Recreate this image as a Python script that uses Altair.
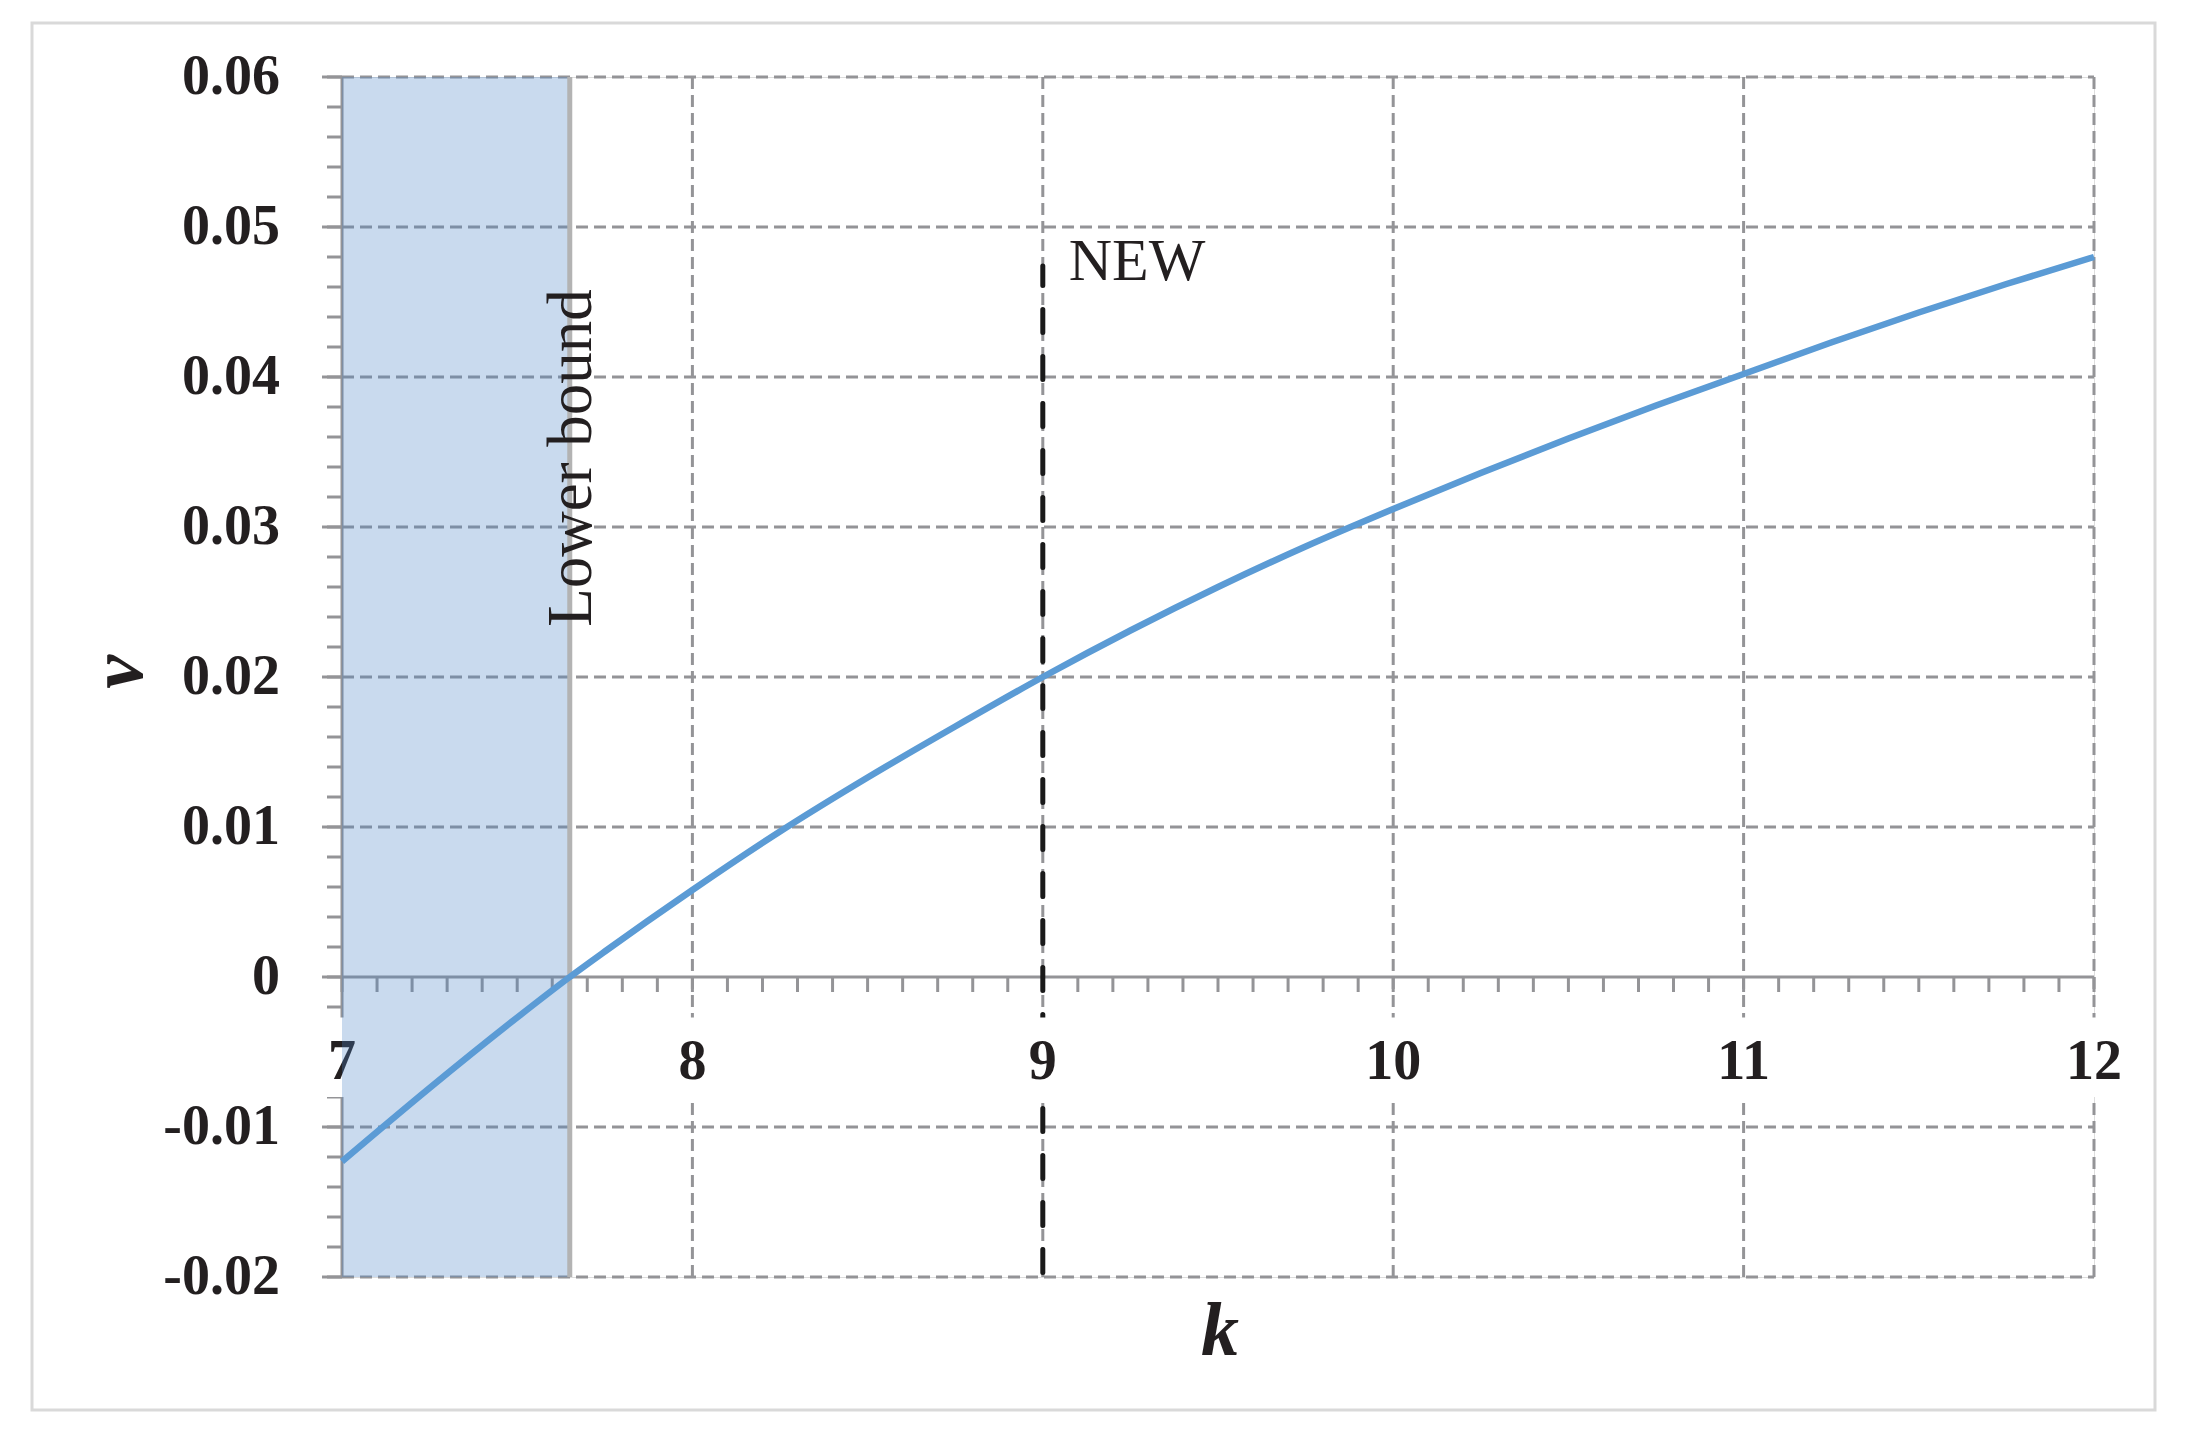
import altair as alt
import pandas as pd

# ---- data ----
k_vals = [7.0, 7.25, 7.5, 7.65, 7.75, 8.0, 8.25, 8.5, 8.75, 9.0, 9.25, 9.5, 9.75,
          10.0, 10.25, 10.5, 10.75, 11.0, 11.25, 11.5, 11.75, 12.0]
v_vals = [-0.0123, -0.0074, -0.0027, 0.0, 0.0017, 0.0058, 0.0097, 0.0133, 0.0167, 0.0200,
          0.0231, 0.0260, 0.0287, 0.0312, 0.0336, 0.0359, 0.0381, 0.0402, 0.0423, 0.0443,
          0.0462, 0.0480]

x_ticks = [7, 8, 9, 10, 11, 12]
x_labels = ["7", "8", "9", "10", "11", "12"]
y_ticks = [-0.02, -0.01, 0.0, 0.01, 0.02, 0.03, 0.04, 0.05, 0.06]
y_labels = ["-0.02", "-0.01", "0", "0.01", "0.02", "0.03", "0.04", "0.05", "0.06"]
y_minor = [round(-0.02 + 0.002 * i, 4) for i in range(41)]
x_minor = [round(7 + 0.1 * i, 2) for i in range(51)]

lower_bound = 7.65
new_k = 9.0
new_top, new_bottom = 0.0474, -0.0197

X_MIN, X_MAX = 7, 12
Y_MIN, Y_MAX = -0.02, 0.06

FONT = "Liberation Serif"
GRID = "#949497"
TXT = "#231f20"

W, H = 1752, 1200

xs = alt.Scale(domain=[X_MIN, X_MAX], nice=False, zero=False)
ys = alt.Scale(domain=[Y_MIN, Y_MAX], nice=False, zero=False)

def X(f="x"):
    return alt.X(f"{f}:Q", scale=xs, axis=None)

def Y(f="y"):
    return alt.Y(f"{f}:Q", scale=ys, axis=None)

curve = pd.DataFrame({"x": k_vals, "y": v_vals})

# frame around everything
frame = alt.Chart(pd.DataFrame({"a": [0]})).mark_rect(
    filled=False, stroke="#d9d9d9", strokeWidth=3
).encode(x=alt.value(-310), x2=alt.value(1813), y=alt.value(-54), y2=alt.value(1333))

# horizontal grid
hgrid_df = pd.DataFrame({"y": [v for v in y_ticks if v != 0.0], "x": X_MIN, "x2": X_MAX})
hgrid = alt.Chart(hgrid_df).mark_rule(color=GRID, strokeWidth=3, strokeDash=[12, 6]).encode(
    y=Y(), x=X(), x2="x2:Q")

# vertical grid
vgrid_df = pd.DataFrame({"x": x_ticks[1:], "y": Y_MIN, "y2": Y_MAX})
vgrid = alt.Chart(vgrid_df).mark_rule(color=GRID, strokeWidth=3, strokeDash=[12, 6]).encode(
    x=X(), y=Y(), y2="y2:Q")

# axis lines
yaxis_line = alt.Chart(pd.DataFrame({"x": [X_MIN], "y": [Y_MIN], "y2": [Y_MAX]})).mark_rule(
    color=GRID, strokeWidth=3).encode(x=X(), y=Y(), y2="y2:Q")
xaxis_line = alt.Chart(pd.DataFrame({"y": [0.0], "x": [X_MIN], "x2": [X_MAX]})).mark_rule(
    color=GRID, strokeWidth=3).encode(y=Y(), x=X(), x2="x2:Q")

# y ticks
ymaj = alt.Chart(pd.DataFrame({"y": y_ticks})).mark_rule(color=GRID, strokeWidth=3).encode(
    y=Y(), x=alt.value(-20), x2=alt.value(0))
ymin = alt.Chart(pd.DataFrame({"y": y_minor})).mark_rule(color=GRID, strokeWidth=3).encode(
    y=Y(), x=alt.value(-15), x2=alt.value(0))

# x minor ticks (downward from v = 0)
xmin_df = pd.DataFrame({"x": x_minor, "y": 0.0, "y2": -0.001})
xmin = alt.Chart(xmin_df).mark_rule(color=GRID, strokeWidth=3).encode(
    x=X(), y=Y(), y2="y2:Q")

# NEW dashed line (under the label boxes)
new_line = alt.Chart(pd.DataFrame({"x": [new_k], "y": [new_bottom], "y2": [new_top]})).mark_rule(
    color="#1a1a1a", strokeWidth=5, strokeDash=[23, 24], strokeCap="round").encode(
    x=X(), y=Y(), y2="y2:Q")

# y labels
ylab = alt.Chart(pd.DataFrame({"y": y_ticks, "t": y_labels})).mark_text(
    font=FONT, fontSize=56, fontWeight="bold", align="right", baseline="middle", color=TXT
).encode(y=Y(), x=alt.value(-62), text="t:N")

# x label backgrounds and labels
lab_y = -0.00567
bg_df = pd.DataFrame({
    "x": [k - (0.065 if len(t) == 1 else 0.125) for k, t in zip(x_ticks, x_labels)],
    "x2": [k + (0.065 if len(t) == 1 else 0.125) for k, t in zip(x_ticks, x_labels)],
    "y": -0.0027, "y2": -0.0080})
xbg = alt.Chart(bg_df).mark_rect(color="white").encode(x=X(), x2="x2:Q", y=Y(), y2="y2:Q")
xlab = alt.Chart(pd.DataFrame({"x": x_ticks, "t": x_labels, "y": lab_y})).mark_text(
    font=FONT, fontSize=56, fontWeight="bold", align="center", baseline="middle", color=TXT
).encode(x=X(), y=Y(), text="t:N")

# shaded band
band = alt.Chart(pd.DataFrame({"x": [X_MIN], "x2": [lower_bound], "y": [Y_MIN], "y2": [Y_MAX]})).mark_rect(
    color="#4b84c6", opacity=0.3).encode(x=X(), x2="x2:Q", y=Y(), y2="y2:Q")
lb_line = alt.Chart(pd.DataFrame({"x": [lower_bound], "y": [Y_MIN], "y2": [Y_MAX]})).mark_rule(
    color="#b3b3b3", strokeWidth=5).encode(x=X(), y=Y(), y2="y2:Q")

# curve
line = alt.Chart(curve).mark_line(color="#5b9bd5", strokeWidth=6.5, interpolate="monotone").encode(
    x=X(), y=Y())

new_text = alt.Chart(pd.DataFrame({"x": [9.074], "y": [0.04647], "t": ["NEW"]})).mark_text(
    font=FONT, fontSize=60, align="left", baseline="alphabetic", color=TXT).encode(
    x=X(), y=Y(), text="t:N")

lb_text = alt.Chart(pd.DataFrame({"x": [7.712], "y": [0.0346], "t": ["Lower bound"]})).mark_text(
    font=FONT, fontSize=63, align="center", baseline="alphabetic", angle=270, color=TXT).encode(
    x=X(), y=Y(), text="t:N")

# axis titles
ytitle = alt.Chart(pd.DataFrame({"t": ["v"]})).mark_text(
    font=FONT, fontSize=76, fontWeight="bold", fontStyle="italic", align="center",
    baseline="alphabetic", angle=270, color=TXT).encode(x=alt.value(-200), y=alt.value(595), text="t:N")
xtitle = alt.Chart(pd.DataFrame({"t": ["k"]})).mark_text(
    font=FONT, fontSize=76, fontWeight="bold", fontStyle="italic", align="center",
    baseline="alphabetic", color=TXT).encode(x=alt.value(878), y=alt.value(1278), text="t:N")

chart = alt.layer(
    frame, hgrid, vgrid, yaxis_line, xaxis_line, ymaj, ymin, xmin, new_line, ylab, xbg, xlab,
    band, lb_line, line, new_text, lb_text, ytitle, xtitle
).properties(
    width=W, height=H,
    autosize=alt.AutoSizeParams(type="none"),
    padding={"left": 334, "top": 69, "right": 90, "bottom": 160},
).configure_view(stroke=None).configure(background="white")

chart.save("out.html", embed_options={"renderer": "svg", "actions": False})
